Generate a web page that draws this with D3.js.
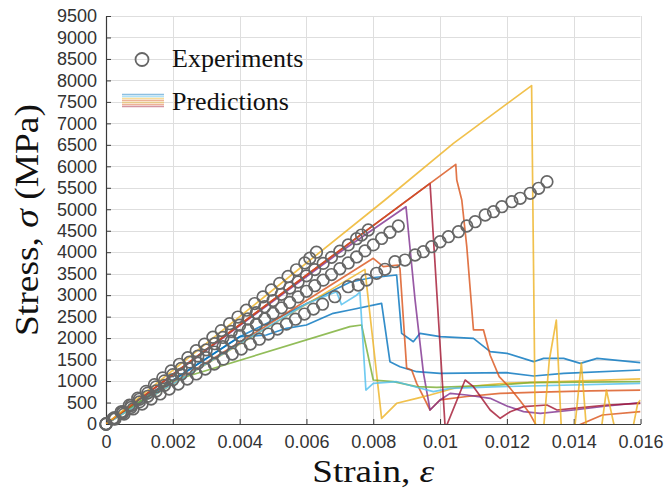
<!DOCTYPE html>
<html>
<head>
<meta charset="utf-8">
<script src="https://cdn.jsdelivr.net/npm/d3@7/dist/d3.min.js"></script>
<style>
  body { margin: 0; background: #fff; }
  .tick text { font-family: "Liberation Sans", Arial, Helvetica, sans-serif; font-size: 18px; fill: #333; }
  .serif { font-family: "Liberation Serif", "Times New Roman", serif; fill: #111; }
</style>
</head>
<body>
<div id="chart"></div>
<script>
// axis ticks
var xTicks = [0, 0.002, 0.004, 0.006, 0.008, 0.010, 0.012, 0.014, 0.016];
var xTickLabels = ["0", "0.002", "0.004", "0.006", "0.008", "0.01", "0.012", "0.014", "0.016"];
var yTicks = [0, 500, 1000, 1500, 2000, 2500, 3000, 3500, 4000, 4500, 5000,
              5500, 6000, 6500, 7000, 7500, 8000, 8500, 9000, 9500];

// experiments: [strain, stress MPa]
var exp1 = [[0,0],[0.0002,120],[0.00045,280],[0.0007,440],[0.00095,600],[0.0012,760],[0.00145,915],
  [0.0017,1075],[0.00195,1235],[0.0022,1390],[0.00245,1545],[0.0027,1705],[0.00295,1860],[0.0032,2020],
  [0.00345,2175],[0.0037,2335],[0.00395,2490],[0.0042,2650],[0.00445,2805],[0.0047,2960],[0.00495,3120],
  [0.0052,3275],[0.00545,3435],[0.0057,3590],[0.00595,3750],[0.0061,3860],[0.0063,4000]];
var exp2 = [[0,0],[0.00025,145],[0.0005,290],[0.00075,430],[0.001,575],[0.00125,720],[0.0015,865],
  [0.00175,1005],[0.002,1150],[0.00225,1295],[0.0025,1440],[0.00275,1580],[0.003,1725],[0.00325,1870],
  [0.0035,2015],[0.00375,2155],[0.004,2300],[0.00425,2445],[0.0045,2590],[0.00475,2730],[0.005,2875],
  [0.00525,3020],[0.0055,3165],[0.00575,3305],[0.006,3450],[0.00625,3595],[0.0065,3740],[0.00675,3880],
  [0.007,4025],[0.00725,4170],[0.0075,4315],[0.00765,4400],[0.00785,4517]];
var exp3 = [[0,0],[0.00025,125],[0.0005,255],[0.00075,385],[0.001,515],[0.00125,645],[0.0015,770],
  [0.00175,900],[0.002,1030],[0.00225,1160],[0.0025,1285],[0.00275,1415],[0.003,1545],[0.00325,1675],
  [0.0035,1800],[0.00375,1930],[0.004,2060],[0.00425,2190],[0.0045,2315],[0.00475,2445],[0.005,2575],
  [0.00525,2705],[0.0055,2830],[0.00575,2960],[0.006,3090],[0.00625,3220],[0.0065,3350],[0.00675,3480],
  [0.007,3615],[0.00725,3750],[0.0075,3890],[0.00775,4030],[0.008,4170],[0.00825,4320],[0.0085,4465],
  [0.00875,4610]];
var exp4 = [[0,0],[0.00027,115],[0.00054,230],[0.00081,350],[0.00108,465],[0.00135,580],[0.00162,700],
  [0.00189,815],[0.00216,930],[0.00243,1045],[0.0027,1165],[0.00297,1280],[0.00324,1395],[0.00351,1510],
  [0.00378,1630],[0.00405,1745],[0.00432,1860],[0.00459,1975],[0.00486,2095],[0.00513,2210],[0.0054,2325],
  [0.00567,2440],[0.00594,2560],[0.00621,2675],[0.00648,2790],[0.00685,2964],[0.00725,3197],[0.00755,3236],
  [0.0078,3353],[0.0081,3509],[0.00835,3602],[0.00865,3779],[0.00895,3818],[0.00925,3935],[0.0095,4012],
  [0.00975,4128],[0.01,4244],[0.01025,4361],[0.01055,4477],[0.0108,4610],[0.01105,4710],[0.01135,4866],
  [0.0116,4943],[0.01185,5060],[0.01215,5176],[0.0124,5255],[0.0127,5372],[0.01295,5488],[0.0132,5642]];

// predictions: [strain, stress MPa]
var predBlueA = [[0,0],[0.004,2030],[0.0073,3300],[0.0079,3400],[0.0087,3469],[0.00885,2111],[0.0092,1916],
  [0.0094,2111],[0.01,2033],[0.011,1995],[0.0115,1684],[0.012,1646],[0.0128,1451],[0.0131,1529],
  [0.0137,1529],[0.0142,1413],[0.0147,1529],[0.016,1428]];
var predBlueB = [[0,0],[0.004,2033],[0.0048,2072],[0.0054,2228],[0.006,2305],[0.0068,2577],[0.0073,2654],
  [0.00825,2810],[0.0085,1451],[0.0088,1334],[0.0093,1218],[0.01,1180],[0.012,1195],[0.0128,1118],
  [0.0137,1180],[0.016,1257]];
var predLightBlue = [[0,0],[0.006,2800],[0.0069,3080],[0.00705,2780],[0.0075,3000],[0.0076,3070],
  [0.00778,790],[0.008,947],[0.0087,985],[0.0093,855],[0.0098,753],[0.0103,831],[0.0118,869],[0.016,947]];
var predGreen = [[0,0],[0.0019,985],[0.0073,2266],[0.00765,2305],[0.008,1024],[0.0086,985],[0.0093,869],
  [0.0099,855],[0.0118,908],[0.0127,962],[0.016,985]];
var predYellowA = [[0,0],[0.004,2500],[0.00835,5215],[0.0104,6535],[0.01274,7880],[0.01285,-100],
  [0.0131,-100],[0.01327,1490],[0.01348,2420],[0.01363,-100],[0.01403,-100],[0.01423,1420],[0.01438,-100],
  [0.01483,-100],[0.01498,790],[0.01523,-100],[0.01577,-100],[0.01592,490],[0.016,560]];
var predYellowB = [[0,0],[0.00775,3600],[0.00825,133],[0.0087,482],[0.0093,598],[0.0097,675],
  [0.0105,850],[0.012,950],[0.014,1000],[0.016,1050]];
var predOrangeA = [[0,0],[0.0097,5604],[0.01047,6046],[0.0105,5680],[0.01065,5216],[0.0108,4128],
  [0.011,2190],[0.0113,2190],[0.0115,1600],[0.01177,1102],[0.01208,850],[0.01238,559],[0.01268,248],
  [0.0129,-60],[0.01405,-60],[0.01486,210],[0.016,287]];
var predOrangeB = [[0,0],[0.0046,2190],[0.008,3858],[0.0083,3663],[0.00875,3702],[0.0088,3620],
  [0.009,1300],[0.00915,1257],[0.0093,947],[0.0097,326],[0.01,560],[0.0108,640],[0.0118,714],
  [0.013,740],[0.0145,770],[0.016,790]];
var predPurple = [[0,0],[0.007,4000],[0.00898,5060],[0.00925,2900],[0.0095,1200],[0.0097,326],[0.01,559],
  [0.0103,714],[0.0108,675],[0.0115,598],[0.012,419],[0.0125,287],[0.013,248],[0.014,326],[0.015,419],
  [0.016,496]];
var predRed = [[0,0],[0.0097,5604],[0.01015,-50],[0.0102,-30],[0.01075,1024],[0.011,870],[0.0115,326],
  [0.0118,133],[0.0121,287],[0.0125,404],[0.0132,442],[0.0135,326],[0.014,365],[0.015,442],[0.016,480]];

var predictions = [
  {data: predBlueA, color: "#0072BD"},
  {data: predBlueB, color: "#0072BD"},
  {data: predOrangeB, color: "#D95319"},
  {data: predYellowB, color: "#EDB120"},
  {data: predPurple, color: "#7E2F8E"},
  {data: predGreen, color: "#77AC30"},
  {data: predLightBlue, color: "#4DBEEE"},
  {data: predRed, color: "#A2142F"},
  {data: predOrangeA, color: "#D95319"},
  {data: predYellowA, color: "#EDB120"}
];
var experiments = [exp1, exp2, exp3, exp4];
var legendColors = ["#0072BD", "#4DBEEE", "#EDB120", "#D95319", "#EDB120", "#D95319", "#A2142F"];

var width = 666, height = 495;
var svg = d3.select("#chart").append("svg")
    .attr("width", width)
    .attr("height", height);

var x = d3.scaleLinear().domain([0, 0.016]).range([106, 640.5]);
var y = d3.scaleLinear().domain([0, 9500]).range([424, 16]);

svg.append("clipPath").attr("id", "plotclip")
  .append("rect")
    .attr("x", x(0)).attr("y", y(9500))
    .attr("width", x(0.016) - x(0)).attr("height", y(0) - y(9500));

// grid
var grid = svg.append("g").attr("stroke", "#dedede").attr("stroke-width", 1);
grid.selectAll("line.gx").data(xTicks).enter().append("line")
    .attr("x1", function(d) { return Math.round(x(d)) + 0.5; })
    .attr("x2", function(d) { return Math.round(x(d)) + 0.5; })
    .attr("y1", y(0)).attr("y2", y(9500));
grid.selectAll("line.gy").data(yTicks).enter().append("line")
    .attr("y1", function(d) { return Math.round(y(d)) + 0.5; })
    .attr("y2", function(d) { return Math.round(y(d)) + 0.5; })
    .attr("x1", x(0)).attr("x2", x(0.016));

// axes
var xAxis = svg.append("g")
    .attr("transform", "translate(0," + y(0) + ")")
    .call(d3.axisBottom(x).tickValues(xTicks)
      .tickFormat(function(d, i) { return xTickLabels[i]; })
      .tickSizeInner(-5).tickSizeOuter(0).tickPadding(11));
var yAxis = svg.append("g")
    .attr("transform", "translate(" + x(0) + ",0)")
    .call(d3.axisLeft(y).tickValues(yTicks).tickFormat(d3.format("d"))
      .tickSizeInner(-5).tickSizeOuter(0).tickPadding(9));
svg.selectAll(".domain").attr("stroke", "#3a3a3a").attr("stroke-width", 1.2);
svg.selectAll(".tick line").attr("stroke", "#3a3a3a");

// prediction lines
var line = d3.line()
    .x(function(d) { return x(d[0]); })
    .y(function(d) { return y(d[1]); });

svg.append("g").attr("clip-path", "url(#plotclip)")
  .selectAll("path").data(predictions).enter().append("path")
    .attr("d", function(d) { return line(d.data); })
    .attr("fill", "none")
    .attr("stroke", function(d) { return d.color; })
    .attr("stroke-width", 1.7)
    .attr("stroke-opacity", 0.8)
    .attr("stroke-linejoin", "round");

// experiment markers
var pts = svg.append("g");
experiments.forEach(function(s) {
  pts.selectAll(null).data(s).enter().append("circle")
    .attr("cx", function(d) { return x(d[0]); })
    .attr("cy", function(d) { return y(d[1]); })
    .attr("r", 5.8)
    .attr("fill", "none")
    .attr("stroke", "#666")
    .attr("stroke-width", 1.7);
});

// legend
svg.append("circle")
    .attr("cx", 142).attr("cy", 59.5).attr("r", 6.5)
    .attr("fill", "none").attr("stroke", "#666").attr("stroke-width", 1.8);
svg.append("text").attr("class", "serif")
    .attr("x", 172).attr("y", 67)
    .style("font-size", "26px")
    .text("Experiments");
svg.append("g").selectAll("line").data(legendColors).enter().append("line")
    .attr("x1", 122).attr("x2", 164)
    .attr("y1", function(d, i) { return 94.5 + i * 2; })
    .attr("y2", function(d, i) { return 94.5 + i * 2; })
    .attr("stroke", function(d) { return d; })
    .attr("stroke-opacity", 0.45)
    .attr("stroke-width", 1.5);
svg.append("text").attr("class", "serif")
    .attr("x", 172).attr("y", 110)
    .style("font-size", "26px")
    .text("Predictions");

// axis labels
var xl = svg.append("text").attr("class", "serif")
    .attr("x", (x(0) + x(0.016)) / 2).attr("y", 482)
    .attr("text-anchor", "middle")
    .attr("textLength", 122).attr("lengthAdjust", "spacingAndGlyphs")
    .style("font-size", "31px");
xl.append("tspan").text("Strain, ");
xl.append("tspan").style("font-style", "italic").text("\u03B5");

var yl = svg.append("text").attr("class", "serif")
    .attr("transform", "translate(38," + (y(0) + y(9500)) / 2 + ") rotate(-90)")
    .attr("text-anchor", "middle")
    .attr("textLength", 232).attr("lengthAdjust", "spacingAndGlyphs")
    .style("font-size", "34px");
yl.append("tspan").text("Stress, ");
yl.append("tspan").style("font-style", "italic").text("\u03C3");
yl.append("tspan").text(" (MPa)");
</script>
</body>
</html>
